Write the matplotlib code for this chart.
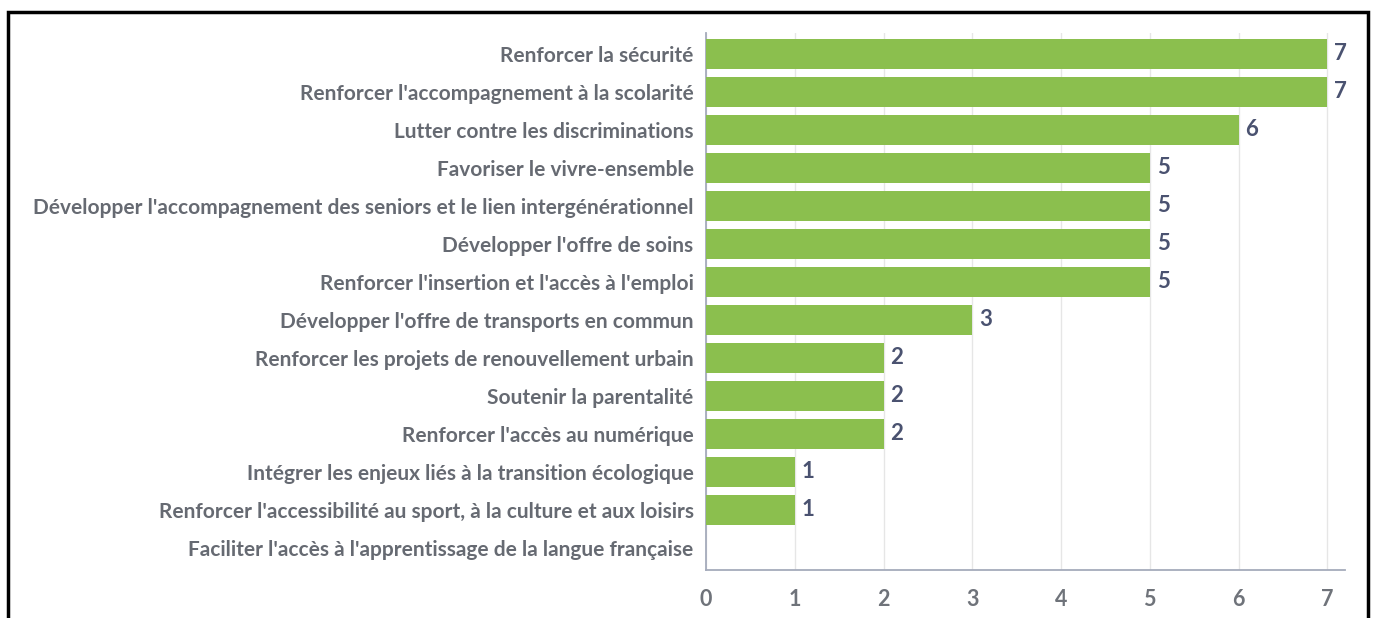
import matplotlib
matplotlib.use("Agg")
import matplotlib.pyplot as plt
from matplotlib.patches import Rectangle

# Data
categories = [
    "Renforcer la sécurité",
    "Renforcer l'accompagnement à la scolarité",
    "Lutter contre les discriminations",
    "Favoriser le vivre-ensemble",
    "Développer l'accompagnement des seniors et le lien intergénérationnel",
    "Développer l'offre de soins",
    "Renforcer l'insertion et l'accès à l'emploi",
    "Développer l'offre de transports en commun",
    "Renforcer les projets de renouvellement urbain",
    "Soutenir la parentalité",
    "Renforcer l'accès au numérique",
    "Intégrer les enjeux liés à la transition écologique",
    "Renforcer l'accessibilité au sport, à la culture et aux loisirs",
    "Faciliter l'accès à l'apprentissage de la langue française",
]
values = [7, 7, 6, 5, 5, 5, 5, 3, 2, 2, 2, 1, 1, 0]
xticks = [0, 1, 2, 3, 4, 5, 6, 7]

plt.rcParams['font.family'] = ['Lato', 'DejaVu Sans']

fig = plt.figure(figsize=(13.75, 6.18), dpi=100, facecolor='white')
ax = fig.add_axes([706 / 1375, 1 - 570 / 618, (1345 - 706) / 1375, (570 - 33) / 618])

ypos = list(range(len(categories)))
ax.barh(ypos, values, height=0.79, color='#8bbf4e', zorder=3)
for y, v in zip(ypos, values):
    if v > 0:
        ax.text(v + 0.08, y, str(v), va='center', ha='left', fontsize=16,
                fontweight='bold', color='#4a5270')

ax.set_yticks(ypos)
ax.set_yticklabels(categories, fontsize=15, fontweight='bold', color='#666a72')
ax.set_ylim(13.58, -0.55)
ax.set_xlim(0, 7.2)
ax.set_xticks(xticks)
ax.set_xticklabels([str(t) for t in xticks], fontsize=15.5, fontweight='bold', color='#6f737a')
ax.tick_params(axis='y', length=0, pad=9)
ax.tick_params(axis='x', length=0, pad=14)
ax.grid(axis='x', color='#e6e6e6', linewidth=1, zorder=0)
for s in ['top', 'right']:
    ax.spines[s].set_visible(False)
ax.spines['left'].set_color('#a5abbb')
ax.spines['bottom'].set_color('#a5abbb')
ax.spines['left'].set_linewidth(1.3)
ax.spines['bottom'].set_linewidth(1.3)

# black frame around the figure
fig.patches.append(Rectangle((8 / 1375, -0.01), (1368 - 8) / 1375, 1 - 12 / 618 + 0.01,
                             transform=fig.transFigure, fill=False,
                             edgecolor='black', linewidth=2.5))

fig.savefig("out.png", dpi=100)
